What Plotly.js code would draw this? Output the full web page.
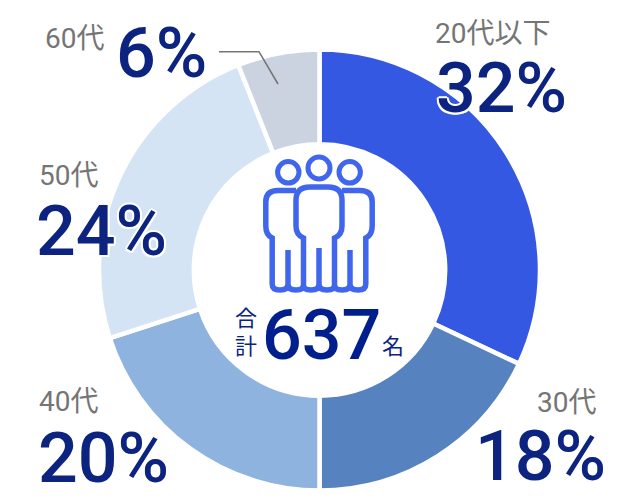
<!DOCTYPE html>
<html><head><meta charset="utf-8">
<script src="https://cdn.plot.ly/plotly-3.0.0.min.js"></script>
<style>html,body{margin:0;padding:0;background:#fff}</style></head>
<body><div id="chart" style="width:640px;height:500px"></div>
<script>
const categories = ["20代以下","30代","40代","50代","60代"];
const shares = [32,18,20,24,6];
const sliceColors = ["#3558e3","#5682c0","#8db3de","#d5e4f4","#cbd2e0"];
const totalCount = "637";

const W=640,H=500;
const px=x=>x/W, py=y=>1-y/H;
const INK="#0d2380", GREY="#757575", ICON="#4166ee";
const DIGITS="Roboto, 'Noto Sans CJK JP', sans-serif";
const halo="2px 0 0 #fff,-2px 0 0 #fff,0 2px 0 #fff,0 -2px 0 #fff,1.5px 1.5px 0 #fff,-1.5px 1.5px 0 #fff,1.5px -1.5px 0 #fff,-1.5px -1.5px 0 #fff";

// label anchors per category, in pixels: name [x, y], value [x, y]
const place=[
 {n:[492,33],v:[501,88]},
 {n:[566,402],v:[540,456]},
 {n:[68,401],v:[103,458]},
 {n:[68,175],v:[101,231]},
 {n:[74,39],v:[161,53]}
];
const annotations=[];
function note(text,x,y,size,color,family,weight,shadow){
 annotations.push({text,xref:"paper",yref:"paper",x:px(x),y:py(y),xanchor:"center",yanchor:"middle",
  showarrow:false,borderpad:0,font:{size,color,family,weight:weight||400,shadow:shadow||"none"}});
}
categories.forEach((c,i)=>{
 note(c,place[i].n[0],place[i].n[1],28,GREY,DIGITS);
 note(shares[i]+"%",place[i].v[0],place[i].v[1],70,INK,DIGITS,500,halo);
});
note(totalCount,321,335,70,"#001f8c",DIGITS,500);
note("合",246,318,22,INK,DIGITS);
note("計",246,346,22,INK,DIGITS);
note("名",393,346,22,INK,DIGITS);

const toPaper=d=>d.replace(/(-?[\d.]+),(-?[\d.]+)/g,(m,a,b)=>px(+a)+","+py(+b));
const shapes=[];
function path(d,color,width,fill){
 shapes.push({type:"path",xref:"paper",yref:"paper",layer:"above",path:toPaper(d),
  line:{color,width},fillcolor:fill||"rgba(0,0,0,0)"});
}
function ring(cx,cy,r){
 shapes.push({type:"circle",xref:"paper",yref:"paper",layer:"above",x0:px(cx-r),x1:px(cx+r),y0:py(cy+r),y1:py(cy-r),
  line:{color:ICON,width:5},fillcolor:"#fff"});
}
path("M 219,51.7 L 259,51.7 L 278,84",GREY,1.6);
ring(288.3,172.3,10.7);ring(349.7,172.3,10.7);
path("M 296,190.5 L 278,190.5 Q 265.8,190.5 265.8,202 L 265.8,226 Q 265.8,235 272.2,238 L 272.2,284 Q 272.2,290 280,290 Q 288,290 288,284 L 288,250 L 288,284 Q 288,290 296,290 Q 303.5,290 303.5,285",ICON,5.5);
path("M 342,190.5 L 360,190.5 Q 372.2,190.5 372.2,202 L 372.2,226 Q 372.2,235 365.8,238 L 365.8,284 Q 365.8,290 358,290 Q 350,290 350,284 L 350,250 L 350,284 Q 350,290 342,290 Q 334.5,290 334.5,285",ICON,5.5);
ring(319,168,11);
path("M 303.5,285 L 303.5,238 Q 296,235 296,226 L 296,200 Q 296,187 310,187 L 328,187 Q 342,187 342,200 L 342,226 Q 342,235 334.5,238 L 334.5,285 Q 334.5,290 327,290 Q 319,290 319,284 L 319,248 L 319,284 Q 319,290 311,290 Q 303.5,290 303.5,285 Z",ICON,5.5,"#fff");

Plotly.newPlot("chart",[{
 type:"pie",labels:categories,values:shares,sort:false,direction:"clockwise",rotation:0,hole:0.57,
 marker:{colors:sliceColors,line:{color:"#fff",width:4.5}},textinfo:"none",hoverinfo:"label+percent",
 domain:{x:[px(99),px(540)],y:[py(490.5),py(49.5)]},showlegend:false
}],{
 width:W,height:H,margin:{l:0,r:0,t:0,b:0,pad:0},paper_bgcolor:"#fff",showlegend:false,annotations,shapes
},{displayModeBar:false,staticPlot:true});
</script></body></html>
